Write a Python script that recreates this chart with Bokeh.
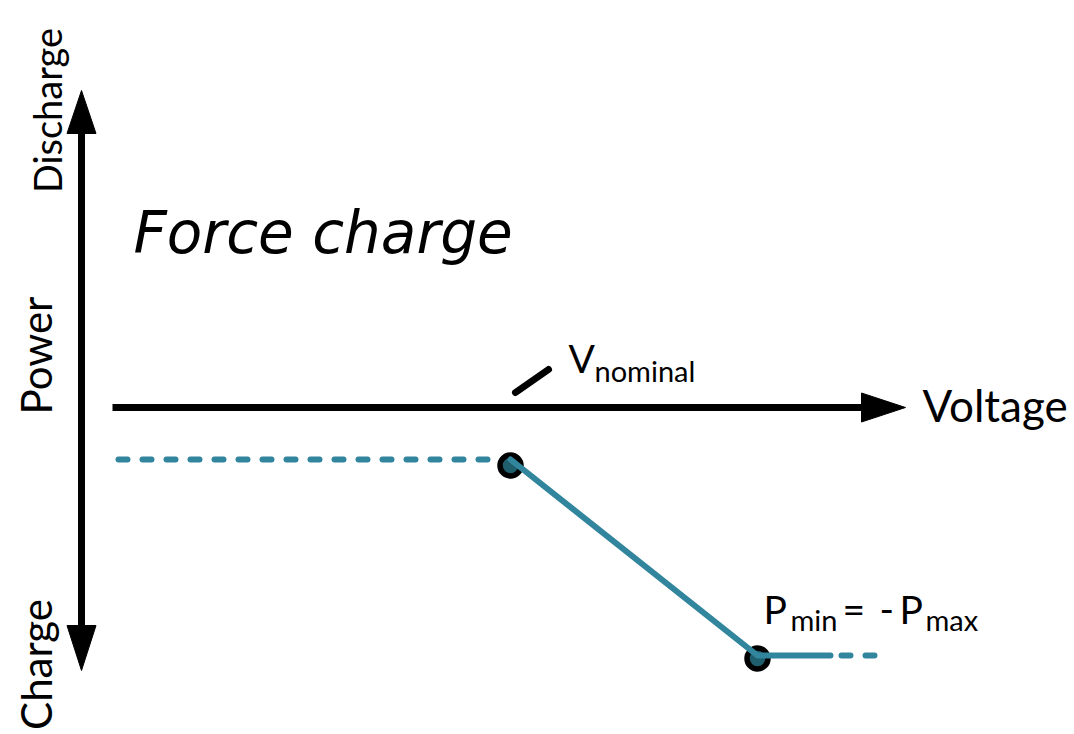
import numpy as np
from bokeh.plotting import figure
from bokeh.models import Range1d
from bokeh.core.properties import value
from bokeh.embed import file_html
from bokeh.resources import INLINE

# ---- schematic data (voltage, power) in diagram units; origin at axis crossing ----
v_nominal = 429
v_pmin = 676
p_force = -52          # power level before V_nominal (dashed)
p_min = -248           # P_min = -P_max

flat_dash_v = [37, v_nominal]
flat_dash_p = [p_force, p_force]
solid_v = [v_nominal, v_pmin, 749]
solid_p = [p_force, p_min, p_min]
tail_dash_v = [760, 796]
tail_dash_p = [p_min, p_min]
marker_v = [v_nominal, v_pmin]
marker_p = [-58, -251]

# axes
p_axis_lo, p_axis_hi = -218, 274
p_tip_lo, p_tip_hi = -263, 317
v_axis_lo, v_axis_hi, v_tip = 31, 780, 824
head_half = 14.5

TEAL = "#31859C"
DARK_TEAL = "#1F5E6C"
FONT = "Lato"

p = figure(width=1074, height=734, output_backend="svg", toolbar_location=None,
           x_range=Range1d(-81, 993), y_range=Range1d(-327, 407),
           min_border=0, outline_line_color=None)
p.axis.visible = False
p.grid.visible = False
p.background_fill_color = "white"

# power axis (vertical) shaft + heads
p.line([0, 0], [p_axis_lo, p_axis_hi], line_width=7, line_color="black")
p.patches([[-head_half, head_half, 0], [-head_half, head_half, 0]],
          [[p_axis_hi, p_axis_hi, p_tip_hi], [p_axis_lo, p_axis_lo, p_tip_lo]],
          fill_color="black", line_color="black")
# voltage axis (horizontal)
p.line([v_axis_lo, v_axis_hi], [0, 0], line_width=7, line_color="black")
p.patch([v_axis_hi, v_axis_hi, v_tip], [head_half, -head_half, 0],
        fill_color="black", line_color="black")

# V_nominal pointer
p.line([434, 467], [15, 38], line_width=7, line_color="black", line_cap="round")

# curve
p.line(flat_dash_v, flat_dash_p, line_width=6, line_color=TEAL,
       line_dash="9 15", line_cap="round")
p.line(tail_dash_v, tail_dash_p, line_width=6, line_color=TEAL,
       line_dash="9 15", line_cap="round")
p.scatter(marker_v, marker_p, size=21, fill_color=DARK_TEAL, line_color="black",
          line_width=5.5)
p.line(solid_v, solid_p, line_width=6, line_color=TEAL, line_cap="round",
       line_join="round")

# texts
p.text(x=[52], y=[175], text=["Force charge"], text_font=value("DejaVu Sans"),
       text_font_style="italic", text_font_size="58px", text_color="black",
       text_baseline="alphabetic")
p.text(x=[841], y=[3], text=["Voltage"], text_font=value(FONT),
       text_font_size="44px", text_color="black", text_baseline="alphabetic")

big_x = [487, 682, 761, 798, 818]
big_y = [50, -201, -201, -201, -201]
big_t = ["V", "P", "=", "-", "P"]
p.text(x=big_x, y=big_y, text=big_t, text_font=value(FONT), text_font_size="39px",
       text_color="black", text_baseline="alphabetic")
sub_x = [513, 709, 844]
sub_y = [37, -212, -212]
sub_t = ["nominal", "min", "max"]
p.text(x=sub_x, y=sub_y, text=sub_t, text_font=value(FONT), text_font_size="29px",
       text_color="black", text_baseline="alphabetic")

rot_x = [-35, -46, -46]
rot_y = [297, 52, -257]
rot_t = ["Discharge", "Power", "Charge"]
rot_s = ["38px", "42px", "42px"]
p.text(x=rot_x, y=rot_y, text=rot_t, text_font=value(FONT), text_font_size=rot_s,
       text_color="black", angle=np.pi / 2, text_align="center",
       text_baseline="middle")

open("out.html", "w").write(file_html(p, INLINE))
